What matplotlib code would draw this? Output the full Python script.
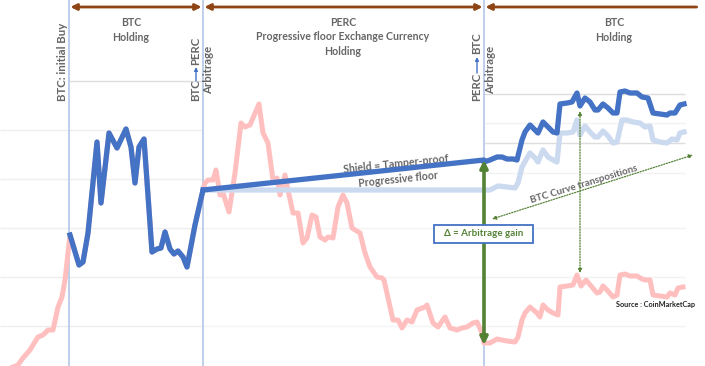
import matplotlib
matplotlib.use("Agg")
import matplotlib.pyplot as plt
from matplotlib.patches import Rectangle

plt.rcParams['font.family'] = ['Lato', 'DejaVu Sans']

# ---------------- data (pixel-like units) ----------------
# full BTC price curve (pink)
btc_x = [13, 18, 23, 30, 33, 38, 43, 48, 53, 58, 62, 65,
         70, 79, 83, 88, 97, 101, 109, 117, 126, 131, 135, 139, 144, 152, 157, 161,
         165, 170, 174, 178, 183, 187, 195, 203,
         205, 208, 213, 216, 220, 223, 229, 235, 241, 245, 250, 259, 263, 268, 273,
         277, 280, 285, 288, 293, 298, 303, 307, 312, 316, 320, 325, 328, 333, 338,
         343, 347, 352, 360, 365, 370, 377, 382, 384, 393, 398, 402, 407, 412, 417,
         425, 427, 433, 438, 445, 450, 457, 462, 467, 473, 477, 482, 484, 490, 497,
         507, 515, 518, 522, 525, 530, 537, 540, 543, 548, 553, 558, 560, 567, 573,
         577, 581, 586, 592, 597, 600, 603, 607, 613, 617, 620, 625, 630, 637, 642,
         645, 650, 653, 660, 667, 670, 675, 678, 683]
btc_y = [367, 365, 358, 350, 345, 337, 335, 330, 330, 307, 297, 280,
         235, 265, 262, 233, 142, 203, 133, 148, 129, 147, 183, 147, 139, 252, 249, 248,
         232, 249, 254, 251, 257, 267, 225, 190,
         183, 180, 180, 170, 195, 193, 212, 173, 123, 127, 125, 104, 133, 143, 180,
         178, 195, 175, 190, 213, 213, 243, 238, 215, 217, 237, 240, 237, 238, 207,
         195, 203, 228, 233, 253, 267, 277, 278, 280, 320, 320, 328, 320, 322, 310,
         307, 305, 323, 327, 317, 328, 330, 328, 327, 323, 322, 333, 343, 343, 339,
         341, 342, 337, 320, 313, 307, 313, 317, 305, 310, 313, 315, 287, 286, 285,
         275, 286, 280, 287, 293, 292, 286, 290, 297, 295, 275, 274, 276, 276, 279,
         280, 280, 295, 296, 297, 293, 295, 288, 287]

# BTC holding period (first phase, dark blue) = slice of the BTC curve
hold_start, hold_end = 12, 36

# Shield = progressive floor (PERC)
floor_x = [203, 484]
floor_y = [190, 160]

# BTC curve after re-arbitrage (dark blue, transposed)
btc2_x = [484, 490, 497, 502, 507, 513, 517, 522, 525, 530, 535, 538, 543, 548, 553,
          557, 560, 567, 572, 577, 580, 585, 590, 595, 598, 603, 608, 613, 617, 620,
          625, 630, 637, 642, 648, 653, 660, 667, 670, 675, 680, 684]
btc2_y = [162, 160, 157, 157, 159, 159, 160, 140, 132, 125, 130, 133, 122, 127, 132,
          133, 104, 103, 102, 93, 106, 98, 102, 110, 110, 104, 108, 113, 113, 92,
          91, 93, 93, 97, 98, 113, 114, 115, 113, 113, 105, 104]

# BTC curve transposed from initial holding level (light blue)
btc1_x = [203, 484, 490, 498, 507, 515, 518, 522, 527, 530, 535, 538, 543, 548, 553,
          557, 560, 567, 573, 577, 580, 585, 590, 595, 598, 603, 608, 613, 617, 622,
          627, 633, 640, 645, 650, 653, 660, 667, 672, 677, 680, 684]
btc1_y = [190, 190, 190, 186, 187, 188, 183, 167, 158, 153, 158, 162, 150, 157, 160,
          162, 133, 133, 132, 120, 135, 126, 132, 137, 137, 131, 136, 143, 142, 120,
          120, 122, 123, 127, 126, 140, 142, 143, 139, 140, 133, 132]

# phase boundaries
phase_x = [69, 203, 484]

# ---------------- figure ----------------
fig = plt.figure(figsize=(7.05, 3.66), dpi=100)
ax = fig.add_axes([0, 0, 1, 1])
ax.set_xlim(0, 705)
ax.set_ylim(366, 0)
ax.axis('off')

# gridlines (composite chart background)
ax.hlines([130, 179, 228, 277, 326], 0, 203, color='#EEEEEE', lw=1, zorder=0)
ax.hlines([81], 69, 203, color='#DDDDDD', lw=1, zorder=0)
ax.hlines([228, 277, 326], 203, 484, color='#F4F4F4', lw=1, zorder=0)
ax.hlines([94, 143], 484, 685, color='#DDDDDD', lw=1, zorder=0)
ax.hlines([123, 173, 228, 277, 326], 484, 685, color='#F2F2F2', lw=1, zorder=0)

# phase separators
ax.vlines(phase_x, 0, 366, color='#B4C7E7', lw=1.2, zorder=1)

# curves
ax.plot(btc_x, btc_y, color='#FFBFBF', lw=3.6, solid_joinstyle='round', zorder=2)
ax.plot(btc1_x, btc1_y, color='#CCDAF0', lw=3.8, solid_joinstyle='round', zorder=3)
ax.plot(btc_x[hold_start:hold_end], btc_y[hold_start:hold_end], color='#4472C4',
        lw=3.8, solid_joinstyle='round', zorder=4)
ax.plot(floor_x, floor_y, color='#4472C4', lw=3.8, solid_capstyle='round', zorder=4)
ax.plot(btc2_x, btc2_y, color='#4472C4', lw=3.8, solid_joinstyle='round', zorder=4)

# top brown phase arrows
brown = '#8E4513'
for (x0, x1, style) in [(69, 203, '<|-|>'), (203, 484, '<|-|>'), (484, 698, '<|-')]:
    ax.annotate('', xy=(x1, 7), xytext=(x0, 7),
                arrowprops=dict(arrowstyle=style, color=brown, lw=2,
                                mutation_scale=9, shrinkA=1, shrinkB=1), zorder=5)

grey = '#666666'
tkw = dict(color=grey, fontsize=7.6, fontweight='bold', ha='center', va='center',
           linespacing=1.35)
ax.text(131, 30, 'BTC\nHolding', **tkw)
ax.text(343, 37, 'PERC\nProgressive floor Exchange Currency\nHolding', **tkw)
ax.text(614, 30, 'BTC\nHolding', **tkw)

rkw = dict(color=grey, fontsize=8.2, fontweight='bold', rotation=90,
           ha='center', va='bottom')
ax.text(63, 101, 'BTC: initial Buy', **rkw)
ax.text(209, 94, 'Arbitrage', **rkw)
ax.text(491, 94, 'Arbitrage', **rkw)

# BTC -> PERC
ax.text(196, 101, 'BTC', **rkw)
ax.annotate('', xy=(196, 67), xytext=(196, 81),
            arrowprops=dict(arrowstyle='-|>', color='#4472C4', lw=1,
                            mutation_scale=5, shrinkA=0, shrinkB=0))
ax.text(196, 65, 'PERC', **rkw)
# PERC -> BTC
ax.text(477, 101, 'PERC', **rkw)
ax.annotate('', xy=(477, 57), xytext=(477, 73),
            arrowprops=dict(arrowstyle='-|>', color='#4472C4', lw=1,
                            mutation_scale=5, shrinkA=0, shrinkB=0))
ax.text(477, 54, 'BTC', **rkw)

# shield labels
ax.text(396, 164, 'Shield = Tamper-proof', color=grey, fontsize=7.6, fontweight='bold',
        rotation=6, ha='center', va='center', rotation_mode='anchor')
ax.text(398, 179, 'Progressive floor', color=grey, fontsize=7.6, fontweight='bold',
        rotation=6, ha='center', va='center', rotation_mode='anchor')

# green arbitrage-gain arrow
green = '#548235'
ax.annotate('', xy=(484, 160), xytext=(484, 345),
            arrowprops=dict(arrowstyle='<|-|>', color=green, lw=2.6,
                            mutation_scale=11, shrinkA=0, shrinkB=0), zorder=6)
ax.add_patch(Rectangle((434, 225), 99, 18, fc='white', ec='#4472C4', lw=1.3, zorder=7))
ax.text(483.5, 234, 'Δ = Arbitrage gain', color=green, fontsize=7, fontweight='bold',
        ha='center', va='center', zorder=8)

# dotted transposition arrows
ax.annotate('', xy=(580, 111), xytext=(580, 273),
            arrowprops=dict(arrowstyle='<|-|>', color=green, lw=0.9,
                            linestyle=(0, (1, 1.2)), mutation_scale=6,
                            shrinkA=0, shrinkB=0), zorder=6)
ax.annotate('', xy=(693, 155), xytext=(492, 219),
            arrowprops=dict(arrowstyle='<|-|>', color=green, lw=0.9,
                            linestyle=(0, (1, 1.2)), mutation_scale=6,
                            shrinkA=0, shrinkB=0), zorder=6)
ax.text(584, 184, 'BTC Curve transpositions', color=grey, fontsize=7, fontweight='bold',
        rotation=17, ha='center', va='center', rotation_mode='anchor')

ax.text(656, 304, 'Source : CoinMarketCap', color='#222222', fontsize=5.2,
        fontweight='bold', ha='center', va='center')

fig.savefig('out.png', dpi=100)
